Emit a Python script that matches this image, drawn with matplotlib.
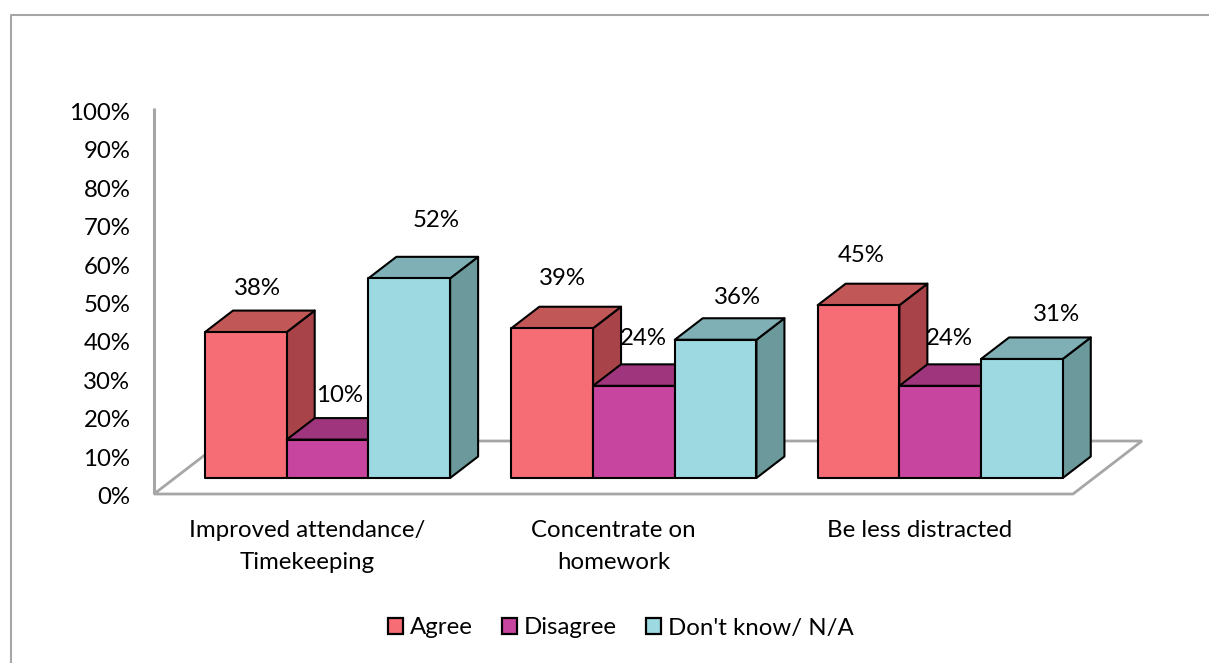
import matplotlib
matplotlib.use('Agg')
import matplotlib.pyplot as plt
from matplotlib.lines import Line2D
from matplotlib.patches import Patch, Polygon
from matplotlib.transforms import ScaledTranslation

plt.rcParams['font.family'] = ['Lato', 'DejaVu Sans']
plt.rcParams['font.size'] = 17.3

categories = ['Improved attendance/\nTimekeeping', 'Concentrate on\nhomework', 'Be less distracted']
series_names = ['Agree', 'Disagree', "Don't know/ N/A"]
agree = [38, 39, 45]
disagree = [10, 24, 24]
dont_know = [52, 36, 31]
yticks = list(range(0, 101, 10))

# face / top / side shades of each series
colors = [('#F66D75', '#C25757', '#A84449'),
          ('#C8459F', '#9F357C', '#9F357C'),
          ('#9DD9E1', '#7FB0B5', '#6C9A9C')]

# hand placed label offsets in pixels, from the middle of each bar's top edge
label_dx = [[12, 12, 27], [10, 9, 22], [3, 9, 35]]
label_dy = [[44, 44, 58], [50, 47, 42], [50, 47, 44]]

W, H = 1209, 663
fig = plt.figure(figsize=(W / 100, H / 100), dpi=100)
ax = fig.add_axes([154 / W, (H - 494) / H, (1073 - 154) / W, 384 / H])
ax.set_xlim(0, 3)
ax.set_ylim(0, 100)

# pixel sizes turned into data units
px_x = 3 / (1073 - 154)
px_y = 100 / 384
bar_w = 81.7 * px_x
depth_x, depth_y = 28 * px_x, 21.5 * px_y
floor_x, floor_y = 69 * px_x, 53 * px_y
base = 16 * px_y
first_bar = 0.1665

grey = '#A6A6A6'
floor = Polygon([(0, 0), (3, 0), (3 + floor_x, floor_y), (floor_x, floor_y)],
                closed=True, fc='white', ec=grey, lw=2, clip_on=False, zorder=1)
ax.add_patch(floor)
ax.plot([0, 0], [0, 100.5], color=grey, lw=2.2, clip_on=False, zorder=1, solid_capstyle='butt')


def draw_bar(x, val, cols):
    top = base + val
    face, roof, side = cols
    # side and top first, the front goes over them
    ax.add_patch(Polygon([(x + bar_w, base), (x + bar_w + depth_x, base + depth_y),
                          (x + bar_w + depth_x, top + depth_y), (x + bar_w, top)],
                         fc=side, ec='black', lw=1.5, clip_on=False, zorder=3, joinstyle='round'))
    ax.add_patch(Polygon([(x, top), (x + depth_x, top + depth_y),
                          (x + bar_w + depth_x, top + depth_y), (x + bar_w, top)],
                         fc=roof, ec='black', lw=1.5, clip_on=False, zorder=3, joinstyle='round'))
    ax.add_patch(Polygon([(x, base), (x + bar_w, base), (x + bar_w, top), (x, top)],
                         fc=face, ec='black', lw=1.5, clip_on=False, zorder=3, joinstyle='round'))


for i in range(len(categories)):
    vals = [agree[i], disagree[i], dont_know[i]]
    for j, v in enumerate(vals):
        x = i + first_bar + j * bar_w
        draw_bar(x, v, colors[j])
        ax.annotate('%d%%' % v, (x + bar_w / 2, base + v),
                    xytext=(label_dx[i][j], label_dy[i][j]), textcoords='offset pixels',
                    ha='center', va='center', color='black', zorder=5, annotation_clip=False)

ax.set_xticks([i + 0.5 for i in range(len(categories))])
ax.set_xticklabels(categories, linespacing=1.62)
ax.set_yticks(yticks)
ax.set_yticklabels(['%d%%' % t for t in yticks])
ax.tick_params(axis='x', length=0, pad=19)
ax.tick_params(axis='y', length=0, pad=17)
for lbl in ax.get_yticklabels():
    lbl.set_transform(lbl.get_transform() + ScaledTranslation(0, -1.5 / 100, fig.dpi_scale_trans))
for s in ax.spines.values():
    s.set_visible(False)
ax.patch.set_alpha(0)

# outer chart border, only left and top land inside the canvas
fig.add_artist(Line2D([11 / W, 11 / W, 1], [0, (H - 15) / H, (H - 15) / H], color=grey, lw=1.5))

handles = [Patch(fc=c[0], ec='black', lw=1.6) for c in colors]
fig.legend(handles, series_names, ncol=3, loc='center', bbox_to_anchor=(621 / W, (H - 628) / H),
           frameon=False, handlelength=0.62, handleheight=0.62, handletextpad=0.3,
           columnspacing=1.2, borderpad=0)

fig.savefig('out.png', dpi=100, facecolor='white')
